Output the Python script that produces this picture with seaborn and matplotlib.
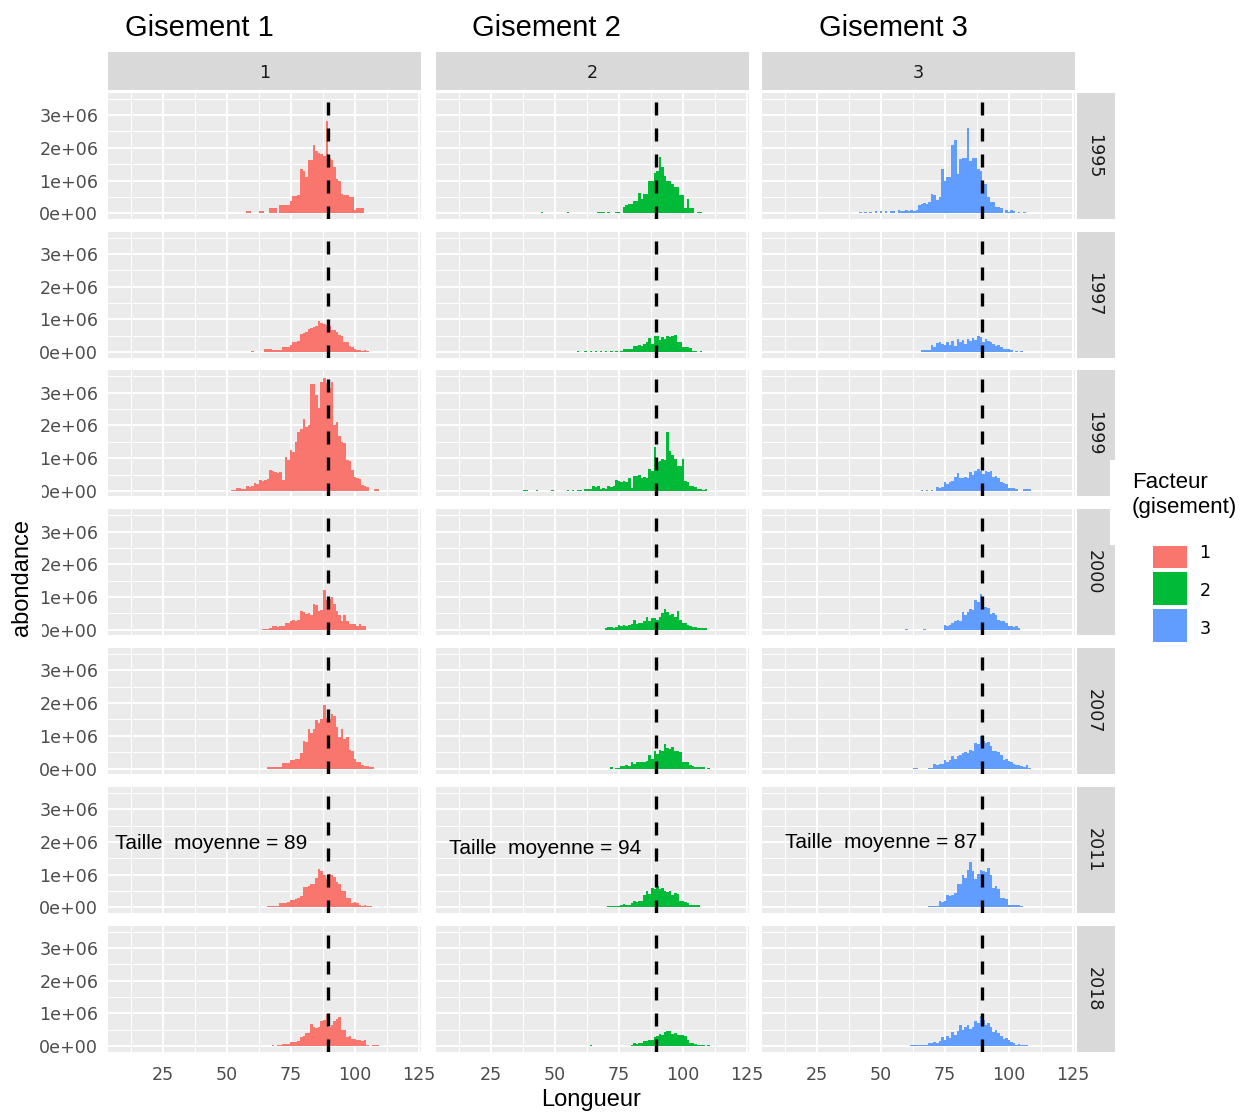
import matplotlib
matplotlib.use("Agg")
import numpy as np
import pandas as pd
import matplotlib.pyplot as plt
from matplotlib.patches import Rectangle
import seaborn as sns

# ---------------- data ----------------
YEARS = [1995, 1997, 1999, 2000, 2007, 2011, 2018]
GISEMENTS = ["1", "2", "3"]
COLORS = ["#F8766D", "#00BA38", "#619CFF"]
TITLES = ["Gisement 1", "Gisement 2", "Gisement 3"]
MEAN_LINE = 89.5
MEAN_LABELS = ["Taille  moyenne = 89", "Taille  moyenne = 94", "Taille  moyenne = 87"]
MEAN_LABEL_X = [43.8, 46.1, 50.0]
MEAN_LABEL_Y = [1.96e6, 1.80e6, 1.99e6]
X_TICKS = [25, 50, 75, 100, 125]
Y_TICKS = [0, 1e6, 2e6, 3e6]
Y_TICK_LABELS = ["0e+00", "1e+06", "2e+06", "3e+06"]

# abundance (millions) per 1-unit length class, first class = *_START
G1_1995_START = 58
G1_1995 = [0.08, 0.08, 0, 0, 0, 0.06, 0.06, 0, 0, 0.17, 0.15, 0.17, 0, 0.24, 0.24, 0.24, 0.26,
           0.37, 0.52, 0.52, 0.55, 1.34, 1.30, 1.11, 1.62, 1.62, 2.08, 1.90, 1.83, 1.80, 1.74,
           2.82, 1.70, 1.62, 1.40, 1.05, 1.00, 0.60, 0.55, 0.55, 0.50, 0.50, 0.10, 0.15, 0.17, 0.17]
G2_1995_START = 45
G2_1995 = [0.04, 0, 0, 0, 0, 0, 0, 0, 0, 0, 0.04, 0, 0, 0, 0, 0, 0, 0, 0, 0, 0, 0,
           0.04, 0.04, 0.05, 0, 0.05, 0, 0, 0.05, 0.05, 0,
           0.20, 0.24, 0.27, 0.27, 0.38, 0.38, 0.62, 0.45, 0.60, 0.60,
           0.99, 0.99, 1.22, 1.30, 1.72, 1.40, 1.13, 1.00, 1.00, 0.88,
           0.80, 0.80, 0.55, 0.55, 0.17, 0.43, 0.15, 0.15, 0, 0.05, 0.05]
G3_1995_START = 42
G3_1995 = [0.03, 0, 0.03, 0, 0.04, 0, 0.06, 0, 0.07, 0, 0.06, 0, 0.08, 0.06, 0, 0.10, 0.08,
           0.06, 0.10, 0.08, 0.10, 0.08, 0.10, 0.25, 0.28, 0.30, 0.28, 0.35, 0.60, 0.55, 0.40,
           0.50, 1.35, 1.00, 1.10, 1.10, 2.08, 2.23, 1.20, 1.65, 1.70, 1.70, 2.60, 1.60, 1.70,
           1.70, 1.35, 1.30, 0.88, 0.88, 0.50, 0.35, 0.35, 0.20, 0.20, 0.15, 0, 0.10, 0.05,
           0.10, 0.06, 0, 0.05, 0, 0.05]

G1_1997_START = 60
G1_1997 = [0.03, 0, 0, 0, 0, 0.09, 0.09, 0.08, 0.06, 0.06, 0.06, 0.05, 0.16, 0.16, 0.17,
           0.21, 0.30, 0.32, 0.35, 0.55, 0.58, 0.60, 0.72, 0.75, 0.78, 0.80, 0.94, 0.90, 0.85,
           0.82, 0.80, 0.66, 0.68, 0.60, 0.53, 0.50, 0.32, 0.30, 0.18, 0.16, 0.08, 0.05, 0.06,
           0.04, 0.05, 0.04]
G2_1997_START = 59
G2_1997 = [0.03, 0, 0, 0.03, 0, 0.03, 0, 0.03, 0, 0.03, 0, 0.03, 0, 0.03, 0, 0.04, 0, 0.04,
           0.08, 0.08, 0.10, 0.08, 0.20, 0.18, 0.22, 0.20, 0.26, 0.30, 0.42, 0.26, 0.50, 0.48,
           0.37, 0.45, 0.40, 0.48, 0.45, 0.50, 0.53, 0.32, 0.30, 0.16, 0.15, 0.16, 0.12, 0.04,
           0.04, 0, 0.03]
G3_1997_START = 66
G3_1997 = [0.06, 0.05, 0.06, 0.06, 0.21, 0.15, 0.28, 0.30, 0.25, 0.21, 0.30, 0.22, 0.35, 0.20,
           0.40, 0.30, 0.38, 0.25, 0.40, 0.35, 0.42, 0.38, 0.48, 0.45, 0.32, 0.40, 0.35, 0.30,
           0.25, 0.20, 0.22, 0.15, 0.10, 0.10, 0.10, 0.06, 0, 0.04, 0, 0.04]

G1_1999_START = 52
G1_1999 = [0.03, 0.03, 0.09, 0.09, 0.06, 0.05, 0.15, 0.12, 0.15, 0.25, 0.22, 0.33, 0.30, 0.33,
           0.35, 0.63, 0.60, 0.58, 0.55, 0.58, 0.33, 1.04, 0.94, 1.24, 1.20, 1.50, 1.80, 1.90,
           2.20, 1.96, 2.00, 3.28, 3.28, 2.93, 2.52, 3.33, 3.45, 3.30, 3.13, 3.33, 2.00, 2.10,
           1.68, 1.50, 1.45, 0.94, 0.90, 0.63, 0.43, 0.38, 0.36, 0.17, 0.15, 0.12, 0, 0, 0.06, 0.05]
G2_1999_START = 38
G2_1999 = [0.03, 0.03, 0, 0, 0, 0.03, 0, 0, 0, 0, 0, 0.03, 0, 0, 0, 0, 0, 0.03, 0, 0.03, 0,
           0.03, 0.03, 0, 0.05, 0.05, 0.06, 0.15, 0.13, 0.15, 0.07, 0.08, 0.07, 0.15, 0.12,
           0.15, 0.34, 0.30, 0.28, 0.30, 0.26, 0.40, 0.10, 0.46, 0.45, 0.50, 0.40, 0.42, 0.40,
           0.66, 0.60, 1.33, 0.87, 0.90, 0.97, 0.95, 1.80, 1.22, 1.10, 0.97, 0.77, 0.75, 0.97,
           0.30, 0.28, 0.15, 0.15, 0.12, 0.05, 0.05, 0.04, 0.05]
G3_1999_START = 66
G3_1999 = [0.04, 0, 0.04, 0, 0.03, 0, 0.13, 0.10, 0.13, 0.26, 0.20, 0.26, 0.30, 0.42, 0.55,
           0.40, 0.38, 0.42, 0.40, 0.58, 0.50, 0.60, 0.68, 0.60, 0.53, 0.61, 0.58, 0.61, 0.42,
           0.45, 0.40, 0.26, 0.25, 0.22, 0.10, 0.10, 0.10, 0.06, 0, 0, 0.05, 0.05, 0.05]

G1_2000_START = 64
G1_2000 = [0.03, 0.03, 0.03, 0.05, 0.10, 0.10, 0.08, 0.10, 0.12, 0.20, 0.20, 0.26, 0.30, 0.26,
           0.30, 0.58, 0.55, 0.47, 0.50, 0.45, 0.79, 0.75, 0.56, 0.60, 1.20, 0.90, 0.95, 1.00,
           0.80, 0.58, 0.45, 0.26, 0.45, 0.26, 0.16, 0.16, 0.16, 0.12, 0.16, 0.10, 0.10]
G2_2000_START = 70
G2_2000 = [0.05, 0.07, 0.07, 0.05, 0.08, 0.13, 0.10, 0.13, 0.12, 0.15, 0.18, 0.30, 0.18, 0.20,
           0.22, 0.26, 0.40, 0.28, 0.35, 0.37, 0.30, 0.40, 0.50, 0.63, 0.55, 0.45, 0.47, 0.40,
           0.58, 0.30, 0.20, 0.20, 0.15, 0.10, 0.07, 0.07, 0.05, 0.05, 0.04, 0.04]
G3_2000_START = 60
G3_2000 = [0.02, 0, 0, 0, 0, 0, 0, 0.02, 0, 0, 0, 0, 0, 0, 0, 0.15, 0.12, 0.15, 0.20, 0.26,
           0.30, 0.26, 0.53, 0.45, 0.53, 0.63, 0.60, 0.90, 0.85, 1.08, 0.68, 0.70, 0.65, 0.47,
           0.50, 0.45, 0.30, 0.26, 0.28, 0.20, 0.10, 0.10, 0.08, 0.10, 0.05]

G1_2007_START = 66
G1_2007 = [0.04, 0.05, 0.04, 0.05, 0.05, 0.06, 0.16, 0.16, 0.18, 0.26, 0.25, 0.28, 0.30, 0.47,
           0.84, 0.80, 1.20, 1.10, 1.20, 1.47, 1.40, 1.50, 1.95, 1.53, 1.50, 1.68, 1.60, 1.26,
           0.95, 1.20, 0.90, 0.95, 0.58, 0.55, 0.30, 0.21, 0.20, 0.10, 0.08, 0.08, 0.05, 0.06]
G2_2007_START = 72
G2_2007 = [0.05, 0, 0.03, 0.03, 0.08, 0.08, 0.10, 0.08, 0.19, 0.15, 0.19, 0.20, 0.21, 0.21,
           0.22, 0.40, 0.30, 0.53, 0.45, 0.58, 0.55, 0.74, 0.63, 0.60, 0.65, 0.55, 0.53, 0.50,
           0.21, 0.21, 0.20, 0.10, 0.08, 0.05, 0.05, 0.04, 0.04, 0, 0.03]
G3_2007_START = 63
G3_2007 = [0.03, 0.03, 0, 0, 0, 0, 0.02, 0.03, 0.13, 0.10, 0.13, 0.15, 0.26, 0.20, 0.26, 0.37,
           0.30, 0.37, 0.40, 0.47, 0.50, 0.47, 0.58, 0.55, 0.79, 0.75, 1.00, 0.85, 0.79, 0.80,
           0.70, 0.53, 0.55, 0.50, 0.40, 0.26, 0.30, 0.22, 0.20, 0.15, 0.10, 0.10, 0.08, 0.05,
           0.10, 0.03]

G1_2011_START = 66
G1_2011 = [0.03, 0.04, 0.03, 0.03, 0.04, 0.13, 0.12, 0.13, 0.15, 0.23, 0.22, 0.25, 0.30, 0.35,
           0.63, 0.63, 0.65, 0.71, 0.70, 0.90, 1.16, 1.10, 1.00, 0.87, 1.03, 0.98, 0.93, 0.77,
           0.70, 0.50, 0.50, 0.30, 0.30, 0.14, 0.15, 0.14, 0.07, 0.05, 0.06, 0.04, 0.03]
G2_2011_START = 71
G2_2011 = [0.03, 0.04, 0.03, 0.04, 0.04, 0.08, 0.10, 0.08, 0.08, 0.12, 0.18, 0.15, 0.20, 0.18,
           0.39, 0.50, 0.42, 0.60, 0.55, 0.66, 0.55, 0.58, 0.50, 0.48, 0.50, 0.39, 0.45, 0.40,
           0.18, 0.20, 0.15, 0.12, 0.07, 0.07, 0.06, 0.06]
G3_2011_START = 69
G3_2011 = [0.03, 0.04, 0.04, 0.05, 0.18, 0.15, 0.18, 0.39, 0.35, 0.39, 0.45, 0.71, 0.70, 0.98,
           0.90, 1.14, 1.40, 1.10, 0.87, 1.03, 1.14, 1.10, 1.08, 1.20, 1.00, 0.60, 0.65, 0.55,
           0.29, 0.30, 0.25, 0.07, 0.08, 0.07, 0.06, 0.06, 0.05]

G1_2018_START = 68
G1_2018 = [0.03, 0.02, 0.03, 0.03, 0.07, 0.07, 0.08, 0.13, 0.12, 0.13, 0.15, 0.28, 0.30, 0.39,
           0.40, 0.67, 0.60, 0.55, 0.60, 0.76, 0.80, 0.97, 0.60, 0.65, 0.78, 0.84, 0.90, 0.50,
           0.50, 0.28, 0.30, 0.23, 0.22, 0.20, 0.18, 0.15, 0.18, 0.03, 0, 0.05, 0.05, 0.05]
G2_2018_START = 64
G2_2018 = [0.04, 0, 0, 0, 0, 0, 0, 0, 0, 0, 0, 0, 0, 0, 0, 0, 0.05, 0.09, 0.08, 0.09, 0.10,
           0.16, 0.15, 0.18, 0.20, 0.27, 0.30, 0.38, 0.35, 0.42, 0.46, 0.45, 0.38, 0.40, 0.35,
           0.33, 0.35, 0.30, 0.20, 0.11, 0.10, 0.08, 0.04, 0.04, 0.03, 0, 0.03]
G3_2018_START = 62
G3_2018 = [0.03, 0.04, 0.03, 0.04, 0.03, 0.04, 0.05, 0.11, 0.10, 0.12, 0.11, 0.15, 0.27, 0.20,
           0.30, 0.25, 0.43, 0.35, 0.45, 0.65, 0.50, 0.60, 0.65, 0.54, 0.60, 0.76, 0.70, 0.92,
           0.80, 0.65, 0.70, 0.60, 0.43, 0.50, 0.40, 0.30, 0.22, 0.25, 0.18, 0.12, 0.10, 0.05,
           0.06, 0.04, 0.05, 0.03]

SERIES = {
    ("1", 1995): (G1_1995_START, G1_1995), ("2", 1995): (G2_1995_START, G2_1995), ("3", 1995): (G3_1995_START, G3_1995),
    ("1", 1997): (G1_1997_START, G1_1997), ("2", 1997): (G2_1997_START, G2_1997), ("3", 1997): (G3_1997_START, G3_1997),
    ("1", 1999): (G1_1999_START, G1_1999), ("2", 1999): (G2_1999_START, G2_1999), ("3", 1999): (G3_1999_START, G3_1999),
    ("1", 2000): (G1_2000_START, G1_2000), ("2", 2000): (G2_2000_START, G2_2000), ("3", 2000): (G3_2000_START, G3_2000),
    ("1", 2007): (G1_2007_START, G1_2007), ("2", 2007): (G2_2007_START, G2_2007), ("3", 2007): (G3_2007_START, G3_2007),
    ("1", 2011): (G1_2011_START, G1_2011), ("2", 2011): (G2_2011_START, G2_2011), ("3", 2011): (G3_2011_START, G3_2011),
    ("1", 2018): (G1_2018_START, G1_2018), ("2", 2018): (G2_2018_START, G2_2018), ("3", 2018): (G3_2018_START, G3_2018),
}

rows = []
for (gis, year), (start, vals) in SERIES.items():
    for k, v in enumerate(vals):
        rows.append({"gisement": gis, "annee": year, "longueur": start + k, "abondance": v * 1e6})
df = pd.DataFrame(rows)

# ---------------- style ----------------
sns.set_style("darkgrid")
plt.rcParams["font.family"] = ["Liberation Sans", "DejaVu Sans"]
SMALL_FONT = "DejaVu Sans"
SMALL_SIZE = 12.6

W, H = 1242, 1112
def fx(px):
    return px / W
def fy(py):
    return 1 - py / H

g = sns.FacetGrid(df, row="annee", col="gisement", hue="gisement",
                  row_order=YEARS, col_order=GISEMENTS, hue_order=GISEMENTS,
                  palette=COLORS, sharex=True, sharey=True, despine=False,
                  height=1.3, aspect=2.5)
g.map(plt.bar, "longueur", "abondance", width=1.0, linewidth=0, align="center")
g.set_titles(template="")
g.set_axis_labels("", "")
fig = g.figure
fig.set_size_inches(W / 100, H / 100)
fig.set_facecolor("white")

COL_LEFT = [108, 436, 762]
PANEL_W = 313
ROW_TOP = [92.8 + 138.83 * i for i in range(7)]
PANEL_H = 126

for i, year in enumerate(YEARS):
    for j, gis in enumerate(GISEMENTS):
        ax = g.axes[i, j]
        left, top = COL_LEFT[j], ROW_TOP[i]
        ax.set_position([fx(left), fy(top + PANEL_H), PANEL_W / W, PANEL_H / H])
        ax.set_facecolor("#EBEBEB")
        for sp in ax.spines.values():
            sp.set_visible(False)
        ax.set_xlim(3.5, 125.8)
        ax.set_ylim(-0.17e6, 3.68e6)
        ax.set_xticks(X_TICKS)
        ax.set_xticks([12.5, 37.5, 62.5, 87.5, 112.5], minor=True)
        ax.set_yticks(Y_TICKS)
        ax.set_yticks([0.5e6, 1.5e6, 2.5e6, 3.5e6], minor=True)
        ax.grid(which="major", color="white", linewidth=1.4)
        ax.grid(which="minor", color="white", linewidth=0.7)
        ax.set_axisbelow(True)
        ax.tick_params(which="major", length=4, width=0.9, color="#333333",
                       labelsize=SMALL_SIZE, labelcolor="#4D4D4D", pad=3)
        ax.tick_params(axis="x", pad=6)
        ax.tick_params(which="minor", length=0)
        if j == 0:
            ax.set_yticklabels(Y_TICK_LABELS, fontfamily=SMALL_FONT)
            ax.tick_params(axis="y", labelleft=True)
        else:
            ax.tick_params(axis="y", length=0, labelleft=False)
        if i == len(YEARS) - 1:
            ax.set_xticklabels([str(t) for t in X_TICKS], fontfamily=SMALL_FONT)
            ax.tick_params(axis="x", labelbottom=True)
        else:
            ax.tick_params(axis="x", length=0, labelbottom=False)
        ax.axvline(MEAN_LINE, color="black", linestyle=(0, (3.9, 3.9)), linewidth=2.4, zorder=3)
        if year == 2011:
            ax.text(MEAN_LABEL_X[j], MEAN_LABEL_Y[j], MEAN_LABELS[j], ha="center", va="center",
                    fontsize=15, color="black", zorder=4)

# column strips
for j, gis in enumerate(GISEMENTS):
    fig.add_artist(Rectangle((fx(COL_LEFT[j]), fy(90)), PANEL_W / W, 38 / H,
                             transform=fig.transFigure, facecolor="#D9D9D9", edgecolor="none", zorder=1))
    fig.text(fx(COL_LEFT[j] + PANEL_W / 2), fy(73), gis, ha="center", va="center",
             fontsize=SMALL_SIZE, fontfamily=SMALL_FONT, color="#1A1A1A", zorder=3)
    fig.text(fx([125, 472, 819][j]), fy(36), TITLES[j], ha="left", va="baseline",
             fontsize=21, color="black", zorder=3)

# row strips
for i, year in enumerate(YEARS):
    top = ROW_TOP[i]
    fig.add_artist(Rectangle((fx(1077), fy(top + PANEL_H)), 38 / W, PANEL_H / H,
                             transform=fig.transFigure, facecolor="#D9D9D9", edgecolor="none", zorder=1))
    fig.text(fx(1094), fy(top + PANEL_H / 2), str(year), rotation=-90, ha="center", va="center",
             fontsize=SMALL_SIZE, fontfamily=SMALL_FONT, color="#1A1A1A", zorder=3)

# legend area (white background over strip edge)
fig.add_artist(Rectangle((fx(1110), fy(545)), (W - 1110) / W, 85 / H,
                         transform=fig.transFigure, facecolor="white", edgecolor="none", zorder=2))
fig.text(fx(1132), fy(472), "Facteur\n(gisement)", ha="left", va="top", fontsize=16,
         linespacing=1.25, color="black", zorder=3)
KEY_TOPS = [546, 572, 609]
KEY_BOTTOMS = [568, 605, 642]
LABEL_Y = [553, 591, 629]
for k, gis in enumerate(GISEMENTS):
    fig.add_artist(Rectangle((fx(1153), fy(KEY_BOTTOMS[k])), 34 / W, (KEY_BOTTOMS[k] - KEY_TOPS[k]) / H,
                             transform=fig.transFigure, facecolor=COLORS[k], edgecolor="none", zorder=3))
    fig.text(fx(1205), fy(LABEL_Y[k]), gis, ha="center", va="center", fontsize=SMALL_SIZE,
             fontfamily=SMALL_FONT, color="black", zorder=3)

# axis titles
fig.add_artist(Rectangle((fx(8), fy(642)), 34 / W, 164 / H, transform=fig.transFigure,
                         facecolor="white", edgecolor="none", zorder=2))
fig.text(fx(22), fy(577), "abondance", rotation=90, ha="center", va="center", fontsize=17,
         color="black", zorder=3)
fig.text(fx(591), fy(1106), "Longueur", ha="center", va="baseline", fontsize=17,
         color="black", zorder=3)

fig.savefig("out.png", dpi=100)
